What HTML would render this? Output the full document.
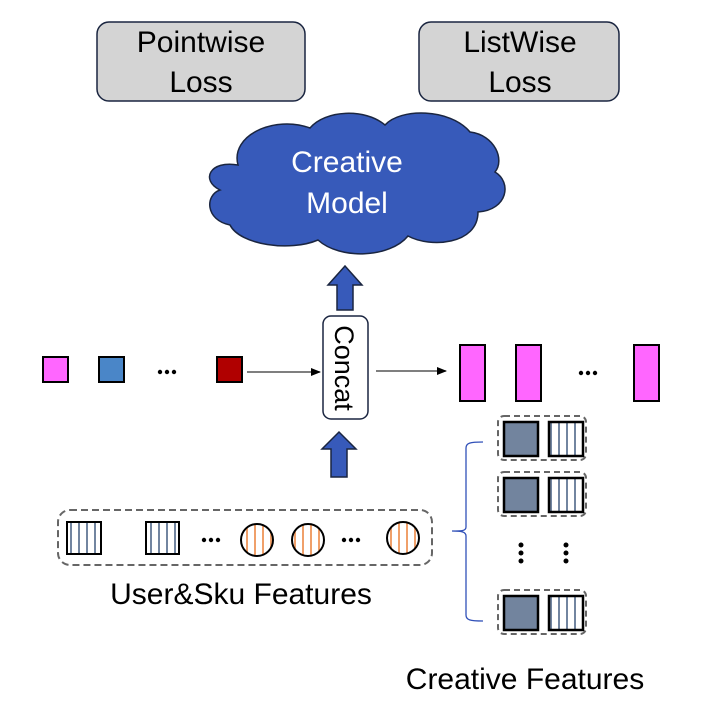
<!DOCTYPE html>
<html><head><meta charset="utf-8"><style>
html,body{margin:0;padding:0;background:#fff;}
svg{display:block;font-family:"Liberation Sans",sans-serif;}
</style></head><body>
<svg width="714" height="712" viewBox="0 0 714 712" xmlns="http://www.w3.org/2000/svg">
<defs>
<pattern id="vs" width="8" height="40" patternUnits="userSpaceOnUse" x="2"><rect width="8" height="40" fill="#fff"/><rect x="4" width="2" height="40" fill="#7285a0"/></pattern>
<pattern id="os" width="8" height="40" patternUnits="userSpaceOnUse" x="2"><rect width="8" height="40" fill="#fff"/><rect x="4" width="2" height="40" fill="#f0a06a"/></pattern>
<marker id="ah" markerWidth="10" markerHeight="8" refX="9" refY="4" orient="auto" markerUnits="userSpaceOnUse"><path d="M0,0 L10,4 L0,8 z" fill="#000"/></marker>
</defs>
<rect x="97" y="22" width="208" height="79" rx="12" fill="#d4d4d4" stroke="#1a2540" stroke-width="1.5"/>
<text x="201" y="52" font-size="30" text-anchor="middle">Pointwise</text>
<text x="201" y="92" font-size="30" text-anchor="middle">Loss</text>
<rect x="419" y="22" width="200" height="79" rx="12" fill="#d4d4d4" stroke="#1a2540" stroke-width="1.5"/>
<text x="520" y="52" font-size="30" text-anchor="middle">ListWise</text>
<text x="520" y="92" font-size="30" text-anchor="middle">Loss</text>
<path d="M238,165 C230,135 275,115 310,128 C325,110 365,108 385,125 C400,108 450,108 470,132 C495,135 505,160 495,172 C512,182 508,210 478,212 C478,245 430,248 408,236 C390,258 340,260 318,240 C290,252 240,245 230,225 C205,220 205,195 220,190 C200,180 210,160 238,165 z" fill="#375aba" stroke="#1a2540" stroke-width="1.5"/>
<text x="347" y="172" font-size="30" fill="#fff" text-anchor="middle">Creative</text>
<text x="347" y="213" font-size="30" fill="#fff" text-anchor="middle">Model</text>
<path d="M337,310 L337,285 L328,285 L345,266 L362,285 L353,285 L353,310 z" fill="#375aba" stroke="#1a2540" stroke-width="1.5"/>
<path d="M331,477 L331,449 L322,449 L339,432 L356,449 L347,449 L347,477 z" fill="#375aba" stroke="#1a2540" stroke-width="1.5"/>
<rect x="323" y="316" width="45" height="103" rx="8" fill="#fff" stroke="#1a2540" stroke-width="1.5"/>
<text transform="translate(335,368) rotate(90)" font-size="27" text-anchor="middle">Concat</text>
<rect x="43" y="357" width="25" height="25" fill="#ff66ff" stroke="#000" stroke-width="2"/>
<rect x="99" y="357" width="25" height="25" fill="#4a86c8" stroke="#000" stroke-width="2"/>
<g fill="#000"><circle cx="160" cy="372" r="2.2"/><circle cx="167" cy="372" r="2.2"/><circle cx="174" cy="372" r="2.2"/>
<circle cx="581" cy="373" r="2.2"/><circle cx="588" cy="373" r="2.2"/><circle cx="595" cy="373" r="2.2"/>
<circle cx="204" cy="540" r="2.2"/><circle cx="211" cy="540" r="2.2"/><circle cx="218" cy="540" r="2.2"/>
<circle cx="344" cy="540" r="2.2"/><circle cx="351" cy="540" r="2.2"/><circle cx="358" cy="540" r="2.2"/></g>
<rect x="217" y="357" width="25" height="25" fill="#b00000" stroke="#000" stroke-width="2"/>
<line x1="247" y1="372" x2="320" y2="372" stroke="#333" stroke-width="1.2" marker-end="url(#ah)"/>
<line x1="376" y1="371" x2="446" y2="371" stroke="#333" stroke-width="1.2" marker-end="url(#ah)"/>
<rect x="460" y="345" width="25" height="56" fill="#ff66ff" stroke="#000" stroke-width="2"/>
<rect x="516" y="345" width="25" height="56" fill="#ff66ff" stroke="#000" stroke-width="2"/>
<rect x="634" y="345" width="25" height="56" fill="#ff66ff" stroke="#000" stroke-width="2"/>
<rect x="58" y="510" width="374" height="55" rx="12" fill="none" stroke="#666" stroke-width="2" stroke-dasharray="7,4"/>
<rect x="67" y="522" width="34" height="32" fill="url(#vs)" stroke="#000" stroke-width="2"/>
<rect x="146" y="522" width="33" height="32" fill="url(#vs)" stroke="#000" stroke-width="2"/>
<circle cx="257" cy="540" r="16" fill="url(#os)" stroke="#000" stroke-width="2"/>
<circle cx="308" cy="540" r="16" fill="url(#os)" stroke="#000" stroke-width="2"/>
<circle cx="403" cy="538" r="16" fill="url(#os)" stroke="#000" stroke-width="2"/>
<text x="241" y="604" font-size="30" text-anchor="middle">User&amp;Sku Features</text>
<path d="M483,442 C470,442 466,443 466,448 L466,527 C466,531 462,531 452,531 C462,531 466,532 466,536 L466,615 C466,620 470,621 483,621" fill="none" stroke="#3050b8" stroke-width="1.3"/>
<g id="row">
<rect x="498" y="416" width="88" height="44" rx="6" fill="none" stroke="#666" stroke-width="2" stroke-dasharray="6,4"/>
<rect x="504" y="422" width="34" height="34" fill="#72849e" stroke="#000" stroke-width="2.5"/>
<rect x="549" y="422" width="34" height="34" fill="url(#vs)" stroke="#000" stroke-width="2.5"/>
</g>
<use href="#row" y="56"/>
<use href="#row" y="174"/>
<circle cx="521" cy="545" r="2.5"/><circle cx="521" cy="553" r="2.5"/><circle cx="521" cy="561" r="2.5"/>
<circle cx="566" cy="545" r="2.5"/><circle cx="566" cy="553" r="2.5"/><circle cx="566" cy="561" r="2.5"/>
<text x="525" y="689" font-size="30" text-anchor="middle">Creative Features</text>
</svg>
</body></html>
